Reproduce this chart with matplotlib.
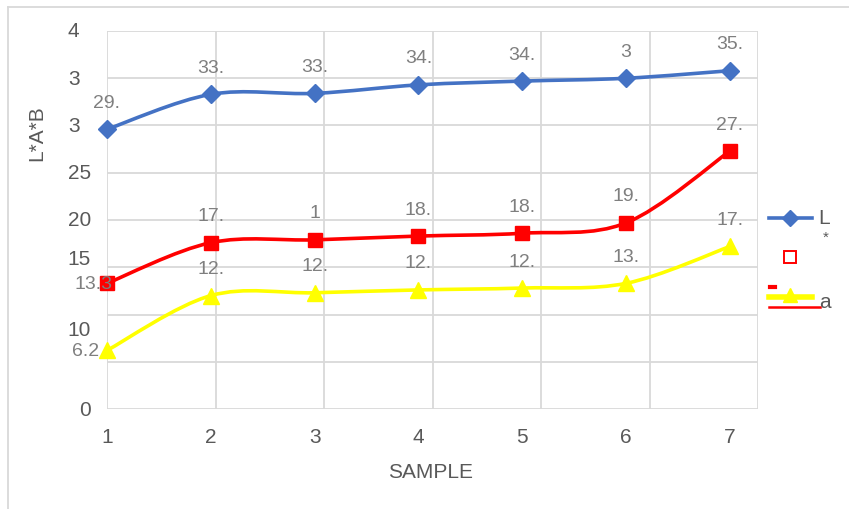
import numpy as np
import matplotlib
matplotlib.use('Agg')
import matplotlib.pyplot as plt
from matplotlib.path import Path
from matplotlib.patches import PathPatch
from matplotlib.lines import Line2D
from matplotlib.transforms import blended_transform_factory

plt.rcParams['font.family'] = ['Liberation Sans', 'DejaVu Sans']

samples = [1, 2, 3, 4, 5, 6, 7]
l_vals = [29.6, 33.3, 33.4, 34.3, 34.7, 35.0, 35.8]
a_vals = [13.3, 17.6, 17.9, 18.3, 18.6, 19.7, 27.3]
b_vals = [6.2, 12.0, 12.3, 12.6, 12.8, 13.3, 17.2]
# data labels as shown (cut off in the original)
l_labels = ['29.', '33.', '33.', '34.', '34.', '3', '35.']
a_labels = ['13.3', '17.', '1', '18.', '18.', '19.', '27.']
b_labels = ['6.2', '12.', '12.', '12.', '12.', '13.', '17.']
ytick_vals = [0, 5, 10, 15, 20, 25, 30, 35, 40]
ytick_text = ['0', '', '10', '15', '20', '25', '3', '3', '4']

W, H = 849, 510
fig = plt.figure(figsize=(W / 100, H / 100), dpi=100)
ax = fig.add_axes([107 / W, 1 - 410 / H, (758 - 107) / W, (410 - 32) / H])

grid_c = '#d9d9d9'
text_c = '#595959'
lab_c = '#7f7f7f'

ax.set_xlim(1, 7.27)
ax.set_ylim(0, 40)
for s in ax.spines.values():
    s.set_visible(False)
for v in ytick_vals:
    ax.axhline(v, color=grid_c, lw=1.3, zorder=0)
for v in np.linspace(1, 7.27, 7):
    ax.axvline(v, color=grid_c, lw=1.3, zorder=0)

ax.set_xticks(samples)
ax.set_xticklabels([str(s) for s in samples])
ax.tick_params(axis='x', length=0, pad=13, labelsize=15, labelcolor=text_c)
ax.set_yticks([])

# y tick labels (some left-aligned because they are cut off)
tr = blended_transform_factory(fig.transFigure, ax.transData)
yoff = {15: 9, 10: -15}
for v, t in zip(ytick_vals, ytick_text):
    if not t:
        continue
    dy = yoff.get(v, 0)
    if len(t) == 1 and v != 0:
        ax.annotate(t, (68 / W, v), xycoords=tr, xytext=(0, dy), textcoords='offset pixels',
                    ha='left', va='center', fontsize=15, color=text_c)
    else:
        ax.annotate(t, (91 / W, v), xycoords=tr, xytext=(0, dy), textcoords='offset pixels',
                    ha='right', va='center', fontsize=15, color=text_c)


def smooth_path(xs, ys):
    pts = np.column_stack([xs, ys]).astype(float)
    ext = np.vstack([pts[0], pts, pts[-1]])
    verts = [pts[0]]
    codes = [Path.MOVETO]
    for i in range(len(pts) - 1):
        p0, p1, p2, p3 = ext[i], ext[i + 1], ext[i + 2], ext[i + 3]
        c1 = p1 + (p2 - p0) / 6
        c2 = p2 - (p3 - p1) / 6
        verts += [c1, c2, p2]
        codes += [Path.CURVE4] * 3
    return Path(verts, codes)


series = [
    (l_vals, l_labels, '#4472c4', 'D', 9, 0),
    (a_vals, a_labels, '#ff0000', 's', 10, -14),
    (b_vals, b_labels, '#ffff00', '^', 11, -21),
]
for vals, labs, col, mk, ms, first_dx in series:
    ax.add_patch(PathPatch(smooth_path(samples, vals), facecolor='none', edgecolor=col,
                           lw=2.6, zorder=3, clip_on=False, capstyle='round'))
    ax.plot(samples, vals, linestyle='none', marker=mk, ms=ms, color=col, zorder=4, clip_on=False)
    for i, (x, y, t) in enumerate(zip(samples, vals, labs)):
        if i == 0 and first_dx:
            ax.annotate(t, (x, y), xytext=(first_dx, 0), textcoords='offset pixels',
                        ha='center', va='center', fontsize=14, color=lab_c, zorder=5)
        else:
            ax.annotate(t, (x, y), xytext=(0, 27), textcoords='offset pixels',
                        ha='center', va='center', fontsize=14, color=lab_c, zorder=5)

fig.text(431 / W, 1 - 472 / H, 'SAMPLE', ha='center', va='center', fontsize=15, color=text_c)
fig.text(37 / W, 1 - 133 / H, 'L*A*B', ha='center', va='center', rotation=90, fontsize=15, color=text_c)

# outer chart border
fig.add_artist(Line2D([8 / W, 8 / W], [0, 1 - 8 / H], color=grid_c, lw=1.3))
fig.add_artist(Line2D([8 / W, 1], [1 - 8 / H, 1 - 8 / H], color=grid_c, lw=1.3))


# legend (garbled as in the original)
def fx(x):
    return x / W


def fy(y):
    return 1 - y / H


fig.add_artist(Line2D([fx(769), fx(812)], [fy(219), fy(219)], color='#4472c4', lw=2.6))
fig.add_artist(Line2D([fx(790)], [fy(219)], color='#4472c4', marker='D', ms=8, linestyle='none'))
fig.text(fx(818), fy(219), 'L', ha='left', va='center', fontsize=15, color=text_c)
fig.text(fx(826), fy(238), '*', ha='center', va='center', fontsize=11, color=text_c)
fig.add_artist(Line2D([fx(790)], [fy(258)], color='none', marker='s', ms=8, mec='#ff0000',
                      mfc='white', mew=1.4, linestyle='none'))
fig.add_artist(Line2D([fx(770), fx(775)], [fy(288), fy(288)], color='#ff0000', lw=3))
fig.add_artist(Line2D([fx(769), fx(812)], [fy(298), fy(298)], color='#ffff00', lw=4))
fig.add_artist(Line2D([fx(790)], [fy(296)], color='#ffff00', marker='^', ms=10, linestyle='none'))
fig.add_artist(Line2D([fx(769), fx(820)], [fy(308), fy(308)], color='#ff0000', lw=1.8))
fig.text(fx(819), fy(302), 'a', ha='left', va='center', fontsize=15, color=text_c)

fig.savefig('out.png', dpi=100)
